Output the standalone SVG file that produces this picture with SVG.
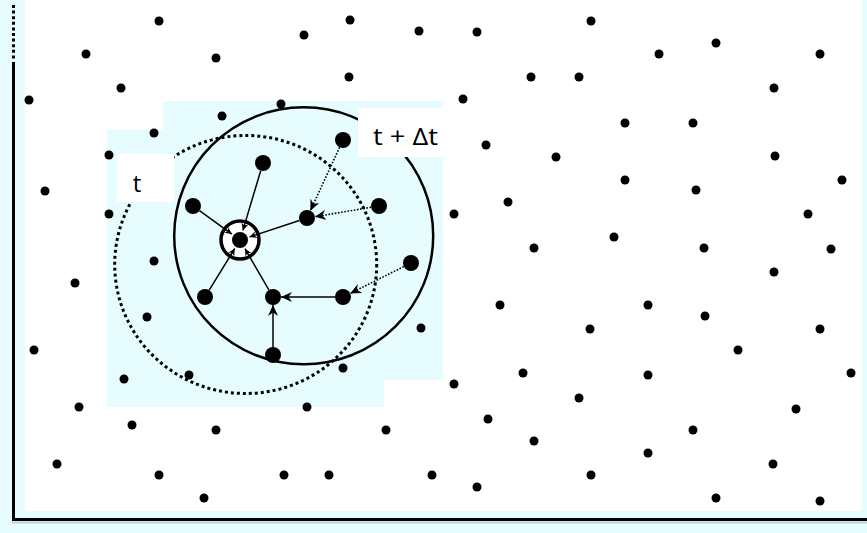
<svg xmlns="http://www.w3.org/2000/svg" width="867" height="533" viewBox="0 0 867 533">
<defs>
<style>
.p{fill:#000}
.n{fill:#000}
.sp{stroke:#000;stroke-width:1.5;fill:none}
.dt{stroke:#000;stroke-width:1.6;stroke-dasharray:1.6 1.6;fill:none}
.lbl{font-family:"Open Sans","Liberation Sans",sans-serif;font-size:24px;fill:#000}
</style>
<marker id="ah" markerUnits="userSpaceOnUse" markerWidth="12" markerHeight="10" refX="11" refY="5" orient="auto">
<path d="M0,0 L11,5 L0,10 L3.5,5 z" fill="#000"/>
</marker>
<marker id="ahs" markerUnits="userSpaceOnUse" markerWidth="8" markerHeight="7" refX="7" refY="3.5" orient="auto">
<path d="M0,0 L7,3.5 L0,7 L2,3.5 z" fill="#000"/>
</marker>
</defs>
<rect x="0" y="0" width="867" height="533" fill="#e6fcfe"/>
<rect x="25" y="0" width="837" height="511" fill="#ffffff"/>
<polygon points="163,101 443,101 443,380 384,380 384,407 107,407 107,130 163,130" fill="#e6fcfe"/>
<g id="frame">
<line x1="13.5" y1="5" x2="13.5" y2="59" stroke="#000" stroke-width="3" stroke-dasharray="3 2.6"/>
<line x1="13.5" y1="62" x2="13.5" y2="520" stroke="#000" stroke-width="3"/>
<line x1="12" y1="519.5" x2="867" y2="519.5" stroke="#000" stroke-width="3"/>
<line x1="12" y1="522.5" x2="867" y2="522.5" stroke="#9fb4c8" stroke-width="2" opacity="0.6"/>
</g>
<g id="particles">
<circle class="p" cx="159" cy="21" r="4.5"/>
<circle class="p" cx="86" cy="54" r="4.5"/>
<circle class="p" cx="216" cy="58" r="4.5"/>
<circle class="p" cx="121" cy="88" r="4.5"/>
<circle class="p" cx="29" cy="100" r="4.5"/>
<circle class="p" cx="281" cy="104" r="4.5"/>
<circle class="p" cx="222" cy="116" r="4.5"/>
<circle class="p" cx="154" cy="133" r="4.5"/>
<circle class="p" cx="109" cy="155" r="4.5"/>
<circle class="p" cx="45" cy="191" r="4.5"/>
<circle class="p" cx="109" cy="214" r="4.5"/>
<circle class="p" cx="154" cy="261" r="4.5"/>
<circle class="p" cx="350" cy="20" r="4.5"/>
<circle class="p" cx="304" cy="35" r="4.5"/>
<circle class="p" cx="419" cy="31" r="4.5"/>
<circle class="p" cx="477" cy="32" r="4.5"/>
<circle class="p" cx="349" cy="77" r="4.5"/>
<circle class="p" cx="531" cy="77" r="4.5"/>
<circle class="p" cx="579" cy="77" r="4.5"/>
<circle class="p" cx="463" cy="99" r="4.5"/>
<circle class="p" cx="486" cy="145" r="4.5"/>
<circle class="p" cx="556" cy="157" r="4.5"/>
<circle class="p" cx="508" cy="202" r="4.5"/>
<circle class="p" cx="454" cy="214" r="4.5"/>
<circle class="p" cx="534" cy="248" r="4.5"/>
<circle class="p" cx="591" cy="21" r="4.5"/>
<circle class="p" cx="659" cy="54" r="4.5"/>
<circle class="p" cx="716" cy="43" r="4.5"/>
<circle class="p" cx="820" cy="54" r="4.5"/>
<circle class="p" cx="774" cy="88" r="4.5"/>
<circle class="p" cx="625" cy="123" r="4.5"/>
<circle class="p" cx="693" cy="123" r="4.5"/>
<circle class="p" cx="775" cy="156" r="4.5"/>
<circle class="p" cx="625" cy="180" r="4.5"/>
<circle class="p" cx="696" cy="190" r="4.5"/>
<circle class="p" cx="842" cy="180" r="4.5"/>
<circle class="p" cx="808" cy="214" r="4.5"/>
<circle class="p" cx="614" cy="237" r="4.5"/>
<circle class="p" cx="704" cy="248" r="4.5"/>
<circle class="p" cx="831" cy="249" r="4.5"/>
<circle class="p" cx="774" cy="272" r="4.5"/>
<circle class="p" cx="75" cy="283" r="4.5"/>
<circle class="p" cx="147" cy="317" r="4.5"/>
<circle class="p" cx="34" cy="350" r="4.5"/>
<circle class="p" cx="124" cy="379" r="4.5"/>
<circle class="p" cx="189" cy="375" r="4.5"/>
<circle class="p" cx="79" cy="407" r="4.5"/>
<circle class="p" cx="132" cy="425" r="4.5"/>
<circle class="p" cx="216" cy="430" r="4.5"/>
<circle class="p" cx="57" cy="464" r="4.5"/>
<circle class="p" cx="159" cy="475" r="4.5"/>
<circle class="p" cx="284" cy="475" r="4.5"/>
<circle class="p" cx="204" cy="498" r="4.5"/>
<circle class="p" cx="500" cy="305" r="4.5"/>
<circle class="p" cx="421" cy="328" r="4.5"/>
<circle class="p" cx="343" cy="368" r="4.5"/>
<circle class="p" cx="523" cy="373" r="4.5"/>
<circle class="p" cx="454" cy="384" r="4.5"/>
<circle class="p" cx="579" cy="398" r="4.5"/>
<circle class="p" cx="307" cy="407" r="4.5"/>
<circle class="p" cx="488" cy="419" r="4.5"/>
<circle class="p" cx="386" cy="430" r="4.5"/>
<circle class="p" cx="534" cy="441" r="4.5"/>
<circle class="p" cx="329" cy="475" r="4.5"/>
<circle class="p" cx="432" cy="475" r="4.5"/>
<circle class="p" cx="477" cy="487" r="4.5"/>
<circle class="p" cx="648" cy="305" r="4.5"/>
<circle class="p" cx="705" cy="316" r="4.5"/>
<circle class="p" cx="590" cy="329" r="4.5"/>
<circle class="p" cx="820" cy="329" r="4.5"/>
<circle class="p" cx="738" cy="350" r="4.5"/>
<circle class="p" cx="648" cy="375" r="4.5"/>
<circle class="p" cx="851" cy="373" r="4.5"/>
<circle class="p" cx="796" cy="409" r="4.5"/>
<circle class="p" cx="693" cy="430" r="4.5"/>
<circle class="p" cx="648" cy="453" r="4.5"/>
<circle class="p" cx="773" cy="464" r="4.5"/>
<circle class="p" cx="591" cy="475" r="4.5"/>
<circle class="p" cx="716" cy="498" r="4.5"/>
<circle class="p" cx="820" cy="501" r="4.5"/>
</g>
<g id="range-t">
<ellipse cx="245.7" cy="264.5" rx="131" ry="129" fill="none" stroke="#000" stroke-width="3" stroke-dasharray="3 3"/>
</g>
<g id="range-t-dt">
<ellipse cx="303.7" cy="235.8" rx="129.5" ry="128.5" fill="none" stroke="#000" stroke-width="2.5"/>
</g>
<g id="label-t">
<rect x="117" y="154" width="57" height="48" fill="#ffffff"/>
<text class="lbl" x="137" y="192" text-anchor="middle">t</text>
</g>
<g id="label-t-dt">
<rect x="358" y="108" width="86" height="49" fill="#ffffff"/>
<text class="lbl" x="373" y="145" textLength="65" lengthAdjust="spacingAndGlyphs">t + Δt</text>
</g>
<circle cx="240" cy="240" r="19" fill="#ffffff"/>
<g id="connectors">
<line class="sp" x1="260.7" y1="170.7" x2="242.9" y2="230.4" marker-end="url(#ahs)"/>
<line class="sp" x1="199.5" y1="210.7" x2="231.9" y2="234.1" marker-end="url(#ahs)"/>
<line class="sp" x1="299.4" y1="220.5" x2="249.5" y2="236.9" marker-end="url(#ahs)"/>
<line class="sp" x1="209.2" y1="290.2" x2="234.8" y2="248.5" marker-end="url(#ahs)"/>
<line class="sp" x1="269" y1="290.1" x2="245" y2="248.7" marker-end="url(#ahs)"/>
<line class="sp" x1="335" y1="297" x2="281" y2="297" marker-end="url(#ah)"/>
<line class="sp" x1="273" y1="347" x2="273" y2="305" marker-end="url(#ah)"/>
<line class="dt" x1="339.6" y1="147.3" x2="310.4" y2="210.7" marker-end="url(#ah)"/>
<line class="dt" x1="371.1" y1="207.3" x2="314.9" y2="216.7" marker-end="url(#ah)"/>
<line class="dt" x1="403.8" y1="266.6" x2="350.2" y2="293.4" marker-end="url(#ah)"/>
</g>
<g id="center">
<circle cx="240" cy="240" r="19" fill="none" stroke="#000" stroke-width="3.5"/>
<circle class="n" cx="240" cy="240" r="8"/>
</g>
<g id="n-top"><circle class="n" cx="263" cy="163" r="8"/></g>
<g id="n-left-upper"><circle class="n" cx="193" cy="206" r="8"/></g>
<g id="n-right-upper"><circle class="n" cx="307" cy="218" r="8"/></g>
<g id="n-top-right"><circle class="n" cx="343" cy="140" r="8"/></g>
<g id="n-far-right-upper"><circle class="n" cx="379" cy="206" r="8"/></g>
<g id="n-far-right"><circle class="n" cx="411" cy="263" r="8"/></g>
<g id="n-left-lower"><circle class="n" cx="205" cy="297" r="8"/></g>
<g id="n-mid-lower"><circle class="n" cx="273" cy="297" r="8"/></g>
<g id="n-right-lower"><circle class="n" cx="343" cy="297" r="8"/></g>
<g id="n-bottom"><circle class="n" cx="273" cy="355" r="8"/></g>
</svg>
